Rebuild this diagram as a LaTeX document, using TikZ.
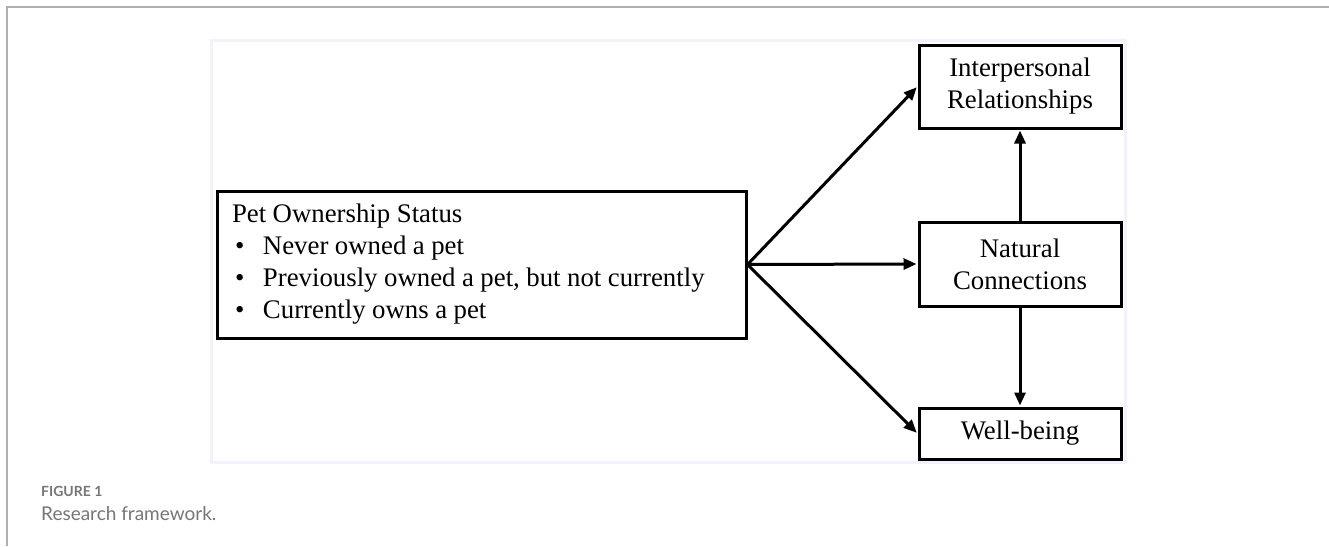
\documentclass[tikz,border=0pt]{standalone}
\usepackage{fontspec}
\setmainfont{Liberation Serif}
\newfontfamily\capfont{Lato}
\usetikzlibrary{arrows.meta}
\definecolor{framegrey}{RGB}{175,175,175}
\definecolor{lav}{RGB}{245,241,251}
\definecolor{capgrey}{RGB}{118,118,118}
\tikzset{
  box/.style={draw=black, line width=3pt, rectangle, inner sep=0pt, align=center,
    font=\fontsize{26.8}{32}\selectfont, minimum width=202pt},
  conn/.style={line width=3pt, -{Triangle[length=13pt,width=11pt]}, shorten >=1pt},
}
\newcommand{\bul}{\hspace*{3pt}\makebox[28pt][l]{\textbullet}}
\begin{document}
\begin{tikzpicture}[x=1pt,y=-1pt]
\useasboundingbox (0,0) rectangle (1329,546);
\fill[white] (0,0) rectangle (1329,546);
% page frame lines
\draw[framegrey, line width=1.6pt] (7,546) -- (7,7) -- (1329,7);
% lavender diagram frame
\draw[lav, line width=3pt] (211,40) rectangle (1125,462);
% nodes
\node[box, minimum width=529pt, minimum height=147pt, align=left, text width=499pt] (pet) at (481.5,264.5)
 {\spaceskip=6.5pt\relax Pet Ownership Status\\
  \bul Never owned a pet\\
  \bul Previously owned a pet, but not currently\\
  \bul Currently owns a pet};
\node[box, minimum height=83pt] (ip) at (1020,86.5) {Interpersonal\\Relationships};
\node[box, minimum height=84pt] (nc) at (1020,264) {Natural\\Connections};
\node[box, minimum height=51pt] (wb) at (1020,433.5) {Well-being};
% connectors
\draw[conn] (pet.east) -- (ip.west);
\draw[conn] (pet.east) -- (nc.west);
\draw[conn] (pet.east) -- (wb.west);
\draw[conn] (nc.north) -- (ip.south);
\draw[conn] (nc.south) -- (wb.north);
% caption
\node[anchor=base west, inner sep=0pt, text=capgrey, font=\capfont\bfseries\fontsize{14}{16}\selectfont] (figlab) at (41,496) {FIGURE 1};
\node[anchor=base west, inner sep=0pt, text=capgrey, font=\capfont\fontsize{19}{22}\selectfont] (figcap) at (41,520) {Research framework.};
\end{tikzpicture}
\end{document}
